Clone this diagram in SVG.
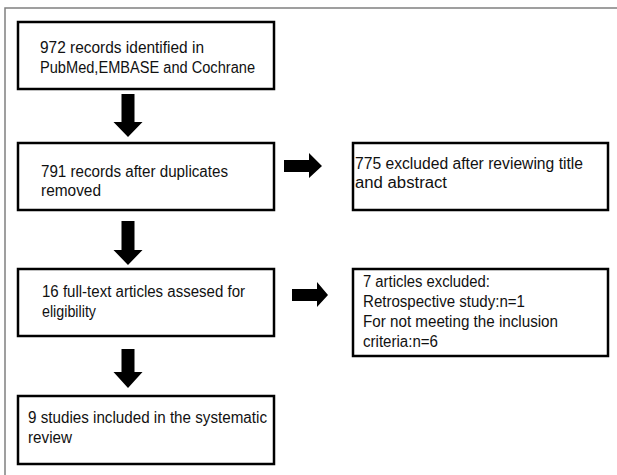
<svg xmlns="http://www.w3.org/2000/svg" width="617" height="475" viewBox="0 0 617 475">
<style>
.box{fill:#fff;stroke:#000;stroke-width:2.5}
.t{font-family:"Liberation Sans",Arial,sans-serif;font-size:16px;fill:#111}
.arr{fill:#000}
</style>
<rect x="0" y="0" width="617" height="475" fill="#fff"/>
<rect x="5" y="8" width="700" height="600" fill="none" stroke="#808080" stroke-width="1.5"/>
<g id="n1">
<rect class="box" x="18" y="22" width="256" height="67"/>
<text class="t" x="40" y="53" textLength="164" lengthAdjust="spacingAndGlyphs">972 records identified in</text>
<text class="t" x="40" y="73" textLength="215" lengthAdjust="spacingAndGlyphs">PubMed,EMBASE and Cochrane</text>
</g>
<g id="n2">
<rect class="box" x="18" y="143" width="256" height="67"/>
<text class="t" x="41" y="177" textLength="187" lengthAdjust="spacingAndGlyphs">791 records after duplicates</text>
<text class="t" x="41" y="196" textLength="60" lengthAdjust="spacingAndGlyphs">removed</text>
</g>
<g id="n3">
<rect class="box" x="18" y="269" width="256" height="67"/>
<text class="t" x="42" y="297" textLength="203" lengthAdjust="spacingAndGlyphs">16 full-text articles assesed for</text>
<text class="t" x="42" y="317" textLength="54" lengthAdjust="spacingAndGlyphs">eligibility</text>
</g>
<g id="n4">
<rect class="box" x="18" y="396" width="256" height="68"/>
<text class="t" x="28" y="423" textLength="239" lengthAdjust="spacingAndGlyphs">9 studies included in the systematic</text>
<text class="t" x="28" y="443" textLength="44" lengthAdjust="spacingAndGlyphs">review</text>
</g>
<g id="n5">
<rect class="box" x="353" y="143" width="255" height="67"/>
<text class="t" x="355" y="169" textLength="228" lengthAdjust="spacingAndGlyphs">775 excluded after reviewing title</text>
<text class="t" x="355" y="188" textLength="92" lengthAdjust="spacingAndGlyphs">and abstract</text>
</g>
<g id="n6">
<rect class="box" x="353" y="269" width="255" height="87"/>
<text class="t" x="363" y="287" textLength="127" lengthAdjust="spacingAndGlyphs">7 articles excluded:</text>
<text class="t" x="363" y="307" textLength="162" lengthAdjust="spacingAndGlyphs">Retrospective study:n=1</text>
<text class="t" x="363" y="327" textLength="195" lengthAdjust="spacingAndGlyphs">For not meeting the inclusion</text>
<text class="t" x="363" y="347" textLength="75" lengthAdjust="spacingAndGlyphs">criteria:n=6</text>
</g>
<g id="connectors">
<polygon class="arr" points="121.5,94 134.5,94 134.5,122 142.5,122 128,137 113.5,122 121.5,122"/>
<polygon class="arr" points="121.5,221 134.5,221 134.5,250 142.5,250 128,265 113.5,250 121.5,250"/>
<polygon class="arr" points="121.5,349 134.5,349 134.5,372 142.5,372 128,388 113.5,372 121.5,372"/>
<polygon class="arr" points="284,160 309,160 309,153 322,166 309,178 309,172 284,172"/>
<polygon class="arr" points="292,289 317,289 317,282 328,295 317,307 317,301 292,301"/>
</g>
</svg>
